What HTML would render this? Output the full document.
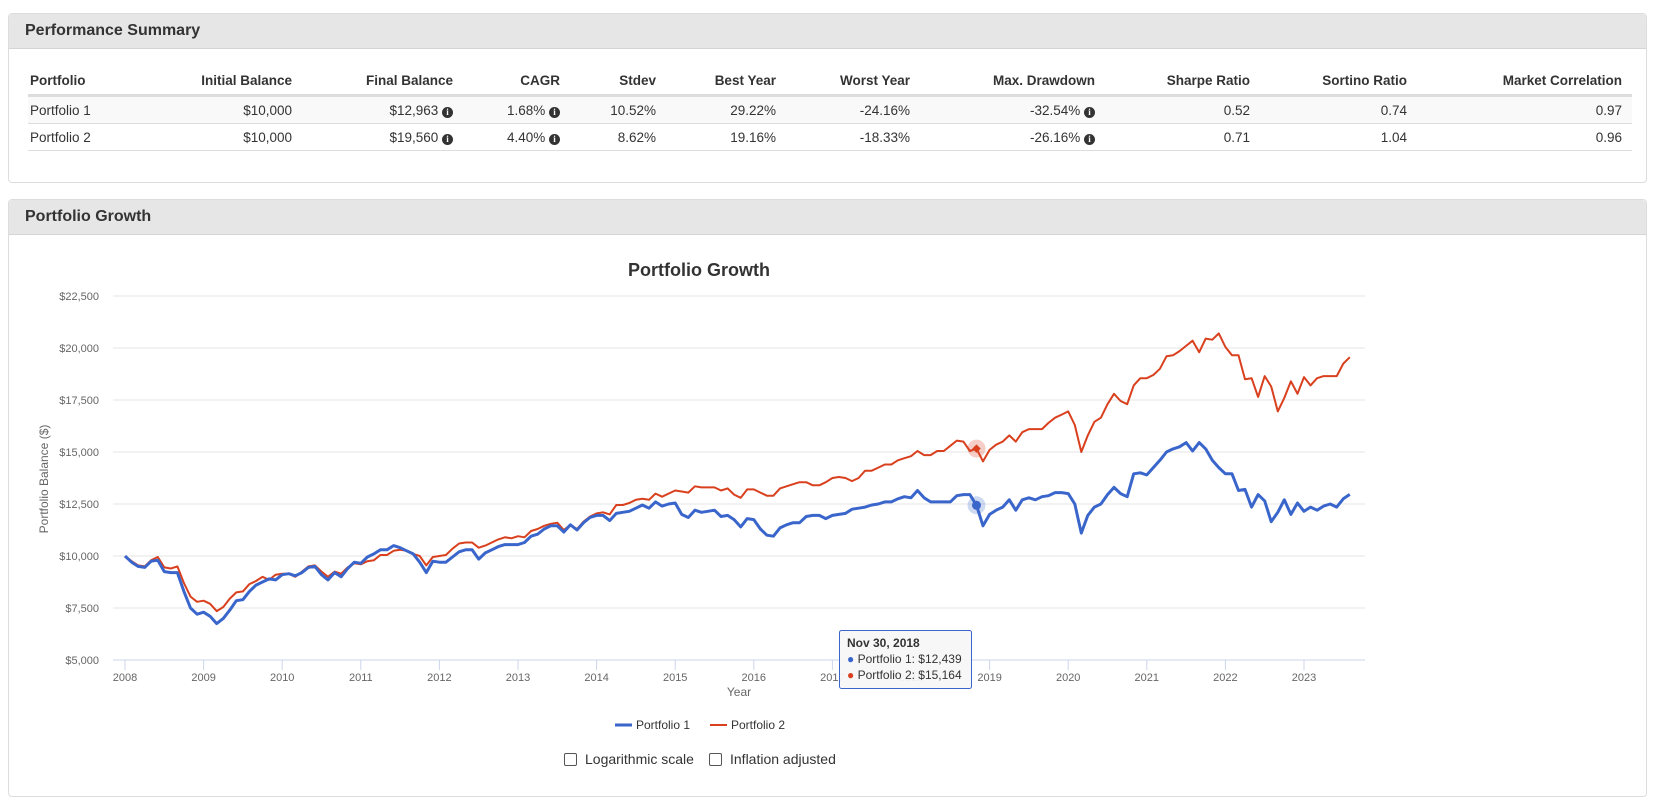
<!DOCTYPE html>
<html><head><meta charset="utf-8">
<style>
body{margin:0;background:#fff;font-family:"Liberation Sans",Arial,sans-serif;color:#333;width:1659px;height:802px;overflow:hidden;position:relative}
.panel{position:absolute;left:8px;width:1637px;border:1px solid #ddd;border-radius:4px;background:#fff}
.phead{height:34px;background:#e6e6e6;border-bottom:1px solid #d4d4d4;border-radius:4px 4px 0 0;font-weight:bold;font-size:16px;line-height:34px;padding-left:16px;color:#333}
table{position:absolute;left:19px;top:53px;width:1604px;border-collapse:collapse;font-size:13.5px}
th{text-align:right;font-weight:bold;height:27px;border-bottom:3px solid #ddd;padding:0 10px 0 0}
td{text-align:right;height:26px;border-bottom:1px solid #ddd;padding:0 10px 0 0}
th:first-child,td:first-child{text-align:left;padding-left:2px}
tr.odd td{background:#f9f9f9}
.i{display:inline-block;width:11px;height:11px;border-radius:50%;background:#333;color:#fff;font-size:9px;line-height:11px;text-align:center;font-weight:bold;font-family:"Liberation Serif",serif;vertical-align:0}
</style></head><body>
<div class="panel" style="top:13px;height:168px">
<div class="phead">Performance Summary</div>
<table>
<tr><th style="width:100px">Portfolio</th><th style="width:152px">Initial Balance</th><th style="width:151px">Final Balance</th><th style="width:97px">CAGR</th><th style="width:86px">Stdev</th><th style="width:110px">Best Year</th><th style="width:124px">Worst Year</th><th style="width:175px">Max. Drawdown</th><th style="width:145px">Sharpe Ratio</th><th style="width:147px">Sortino Ratio</th><th>Market Correlation</th></tr>
<tr class="odd"><td>Portfolio 1</td><td>$10,000</td><td>$12,963 <span class="i">i</span></td><td>1.68% <span class="i">i</span></td><td>10.52%</td><td>29.22%</td><td>-24.16%</td><td>-32.54% <span class="i">i</span></td><td>0.52</td><td>0.74</td><td>0.97</td></tr>
<tr><td>Portfolio 2</td><td>$10,000</td><td>$19,560 <span class="i">i</span></td><td>4.40% <span class="i">i</span></td><td>8.62%</td><td>19.16%</td><td>-18.33%</td><td>-26.16% <span class="i">i</span></td><td>0.71</td><td>1.04</td><td>0.96</td></tr>
</table>
</div>
<div class="panel" style="top:199px;height:596px">
<div class="phead">Portfolio Growth</div>
</div>
<svg id="chart" width="1659" height="802" style="position:absolute;left:0;top:0" font-family="Liberation Sans, Arial, sans-serif"></svg>
<script>
const years=['2008','2009','2010','2011','2012','2013','2014','2015','2016','2017','2018','2019','2020','2021','2022','2023'];
const yTicks=[5000,7500,10000,12500,15000,17500,20000,22500];
const yTickLabels=['$5,000','$7,500','$10,000','$12,500','$15,000','$17,500','$20,000','$22,500'];
const portfolio1=[10000,9700,9500,9450,9750,9800,9250,9200,9200,8300,7500,7200,
7300,7100,6750,7000,7400,7850,7900,8300,8600,8750,8900,8850,
9100,9150,9050,9200,9450,9500,9100,8850,9200,9000,9400,9700,
9650,9950,10100,10300,10300,10500,10400,10250,10100,9700,9200,9750,
9700,9700,9950,10200,10300,10300,9850,10150,10300,10450,10550,10550,
10550,10650,10950,11050,11300,11450,11450,11150,11500,11250,11600,11850,
11950,11950,11700,12050,12100,12150,12300,12450,12300,12600,12400,12500,
12550,12000,11850,12200,12100,12150,12200,11900,11950,11750,11400,11800,
11750,11300,11000,10950,11350,11500,11600,11600,11900,11950,11950,11800,
11950,12000,12050,12250,12300,12350,12450,12500,12600,12600,12750,12850,
12800,13150,12800,12600,12600,12600,12600,12900,12950,12950,12439,11450,
12000,12200,12350,12700,12200,12700,12800,12700,12850,12900,13050,13050,
13000,12500,11100,11950,12350,12500,12950,13300,13000,12850,13950,14000,
13900,14250,14600,15000,15150,15250,15450,15050,15450,15150,14600,14250,
13950,13950,13150,13200,12350,12950,12650,11650,12100,12700,12000,12550,
12150,12350,12200,12400,12500,12350,12750,12963];
const portfolio2=[10000,9750,9550,9500,9800,9950,9450,9400,9500,8700,8050,7800,
7850,7700,7350,7550,7950,8250,8300,8650,8800,9000,8850,9100,
9150,9150,9000,9250,9500,9550,9250,9000,9250,9150,9450,9650,
9600,9750,9800,10050,10050,10250,10300,10250,10100,10000,9550,9950,
10000,10050,10350,10600,10650,10650,10400,10500,10650,10800,10900,10850,
10950,10900,11200,11300,11450,11550,11600,11250,11500,11300,11650,11900,
12050,12100,12000,12450,12450,12550,12700,12750,12700,13000,12850,13000,
13150,13100,13050,13350,13300,13300,13300,13150,13250,12950,12800,13200,
13200,13050,12900,12900,13250,13350,13450,13550,13550,13400,13400,13550,
13750,13800,13750,13600,13750,14100,14100,14250,14400,14400,14600,14700,
14800,15050,14850,14850,15050,15050,15300,15550,15500,15050,15164,14550,
15100,15350,15500,15800,15500,15950,16100,16100,16100,16400,16650,16800,
16950,16300,15000,15800,16450,16650,17300,17800,17450,17300,18200,18550,
18550,18700,19000,19600,19650,19850,20100,20350,19800,20450,20400,20700,
20050,19650,19650,18500,18550,17650,18650,18150,16950,17600,18400,17800,
18600,18200,18550,18650,18650,18650,19250,19560];
const NS='http://www.w3.org/2000/svg';
const svg=document.getElementById('chart');
const X0=125,YR=78.6,Y0=660,PY=(660-296)/17500;
const xs=i=>X0+i*YR/12;
const xy=i=>X0+i*YR;
const ys=v=>Y0-(v-5000)*PY;
function mk(t,a,txt){const e=document.createElementNS(NS,t);for(const k in a)e.setAttribute(k,a[k]);if(txt!==undefined)e.textContent=txt;svg.appendChild(e);return e;}
let e;
e=mk('text',{x:699,y:276,'text-anchor':'middle','font-size':18,'font-weight':'bold',fill:'#333'},'Portfolio Growth');


yTicks.forEach((v,i)=>{
 e=mk('line',{x1:113,x2:1365,y1:ys(v),y2:ys(v),stroke:i==0?'#ccd6eb':'#e6e6e6','stroke-width':1});
 
 
 e=mk('text',{x:99,y:ys(v)+4,'text-anchor':'end','font-size':11,fill:'#666'},yTickLabels[i]);
 
 
});
years.forEach((y,i)=>{
 e=mk('line',{x1:xy(i),x2:xy(i),y1:660,y2:670,stroke:'#ccd6eb'});
 
 
 e=mk('text',{x:xy(i),y:681,'text-anchor':'middle','font-size':11,fill:'#666'},y);
 
 
});
e=mk('text',{x:0,y:0,transform:'translate(48,479) rotate(-90)','text-anchor':'middle','font-size':12,fill:'#666'},'Portfolio Balance ($)');


e=mk('text',{x:739,y:696,'text-anchor':'middle','font-size':12,fill:'#666'},'Year');


function line(d,c,w,name){e=mk('polyline',{points:d.map((v,i)=>xs(i).toFixed(1)+','+ys(v).toFixed(1)).join(' '),fill:'none',stroke:c,'stroke-width':w,'stroke-linejoin':'round'});
 
 }
line(portfolio2,'#d9401e',2,'portfolio-2-line');
line(portfolio1,'#3a66cc',3,'portfolio-1-line');
const hi=130;
e=mk('circle',{cx:xs(hi),cy:ys(portfolio1[hi]),r:9,fill:'#3a66cc','fill-opacity':0.25});


e=mk('circle',{cx:xs(hi),cy:ys(portfolio1[hi]),r:4.5,fill:'#3a66cc'});


e=mk('circle',{cx:xs(hi),cy:ys(portfolio2[hi]),r:9,fill:'#d9401e','fill-opacity':0.25});


e=mk('rect',{x:xs(hi)-3,y:ys(portfolio2[hi])-3,width:6,height:6,fill:'#d9401e',transform:`rotate(45 ${xs(hi)} ${ys(portfolio2[hi])})`});


e=mk('rect',{x:839.5,y:630.5,width:132,height:58,rx:2,fill:'#f7f7f7','fill-opacity':0.95,stroke:'#3a66cc'});


e=mk('text',{x:847,y:647,'font-size':12,'font-weight':'bold',fill:'#333'},'Nov 30, 2018');


e=mk('text',{x:847,y:663,'font-size':12,fill:'#333'});
e.innerHTML='<tspan fill="#3a66cc">●</tspan> Portfolio 1: $'+portfolio1[hi].toLocaleString('en-US');


e=mk('text',{x:847,y:679,'font-size':12,fill:'#333'});
e.innerHTML='<tspan fill="#d9401e">●</tspan> Portfolio 2: $'+portfolio2[hi].toLocaleString('en-US');


e=mk('line',{x1:615,x2:632,y1:725,y2:725,stroke:'#3a66cc','stroke-width':3});


e=mk('text',{x:636,y:729,'font-size':12,fill:'#333'},'Portfolio 1');


e=mk('line',{x1:710,x2:727,y1:725,y2:725,stroke:'#d9401e','stroke-width':2});


e=mk('text',{x:731,y:729,'font-size':12,fill:'#333'},'Portfolio 2');


</script>
<div style="position:absolute;left:564px;top:751px;font-size:14px;color:#333;display:flex;align-items:center">
<span style="display:inline-block;width:11px;height:11px;border:1px solid #555;border-radius:2px;margin-right:8px;background:#fff"></span>Logarithmic scale</div>
<div style="position:absolute;left:709px;top:751px;font-size:14px;color:#333;display:flex;align-items:center">
<span style="display:inline-block;width:11px;height:11px;border:1px solid #555;border-radius:2px;margin-right:8px;background:#fff"></span>Inflation adjusted</div>
</body></html>
